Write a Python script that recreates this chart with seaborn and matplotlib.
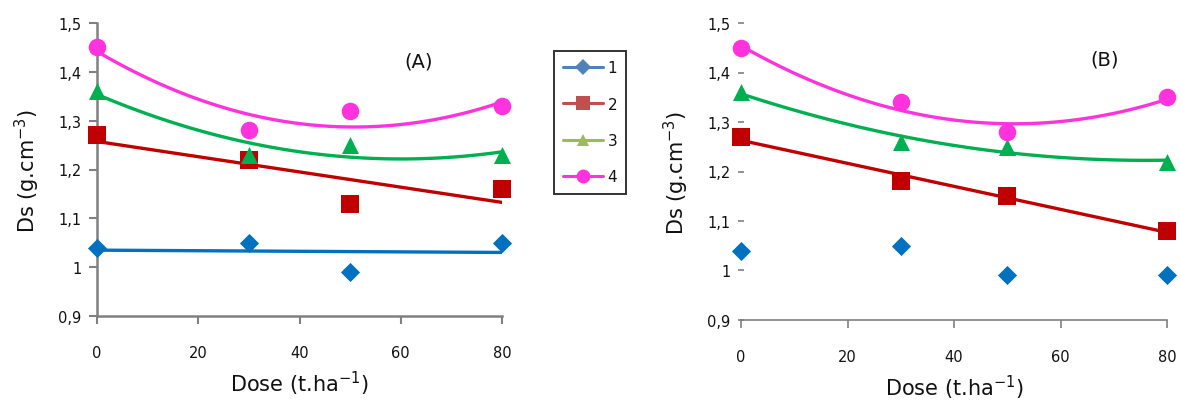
import numpy as np
import pandas as pd
import matplotlib
matplotlib.use("Agg")
import matplotlib.pyplot as plt
from matplotlib.lines import Line2D
import seaborn as sns

sns.set_theme(style="white")
plt.rcParams["font.family"] = ["DejaVu Sans"]

# Doses applied (t/ha)
doses = [0, 30, 50, 80]

# Soil bulk density (g/cm3) for the four treatments, panel A
ds_a_1 = [1.04, 1.05, 0.99, 1.05]
ds_a_2 = [1.27, 1.22, 1.13, 1.16]
ds_a_3 = [1.36, 1.23, 1.25, 1.23]
ds_a_4 = [1.45, 1.28, 1.32, 1.33]

# Soil bulk density (g/cm3), panel B
ds_b_1 = [1.04, 1.05, 0.99, 0.99]
ds_b_2 = [1.27, 1.18, 1.15, 1.08]
ds_b_3 = [1.36, 1.26, 1.25, 1.22]
ds_b_4 = [1.45, 1.34, 1.28, 1.35]

series_labels = ["1", "2", "3", "4"]
x_ticks = [0, 20, 40, 60, 80]
y_ticks = [0.9, 1.0, 1.1, 1.2, 1.3, 1.4, 1.5]
y_tick_labels = ["0,9", "1", "1,1", "1,2", "1,3", "1,4", "1,5"]

# Trend order per series (None = no trend line)
trend_a = [1, 1, 2, 2]
trend_b = [None, 1, 2, 2]

mark_colors = ["#0070C0", "#C00000", "#00B050", "#FF33DD"]
line_colors = ["#0070C0", "#C00000", "#00B050", "#FF33DD"]
legend_colors = ["#4F81BD", "#C0504D", "#9BBB59", "#FF33DD"]
markers = ["D", "s", "^", "o"]
msizes = [95, 150, 150, 160]

fig = plt.figure(figsize=(11.8, 4.02), dpi=100)
ax_a = fig.add_axes([97 / 1180, 1 - 317 / 402, 405 / 1180, 293 / 402])
ax_b = fig.add_axes([741 / 1180, 1 - 321 / 402, 426 / 1180, 297 / 402])

panels = [
    (ax_a, [ds_a_1, ds_a_2, ds_a_3, ds_a_4], trend_a, "(A)", (63.6, 1.422)),
    (ax_b, [ds_b_1, ds_b_2, ds_b_3, ds_b_4], trend_b, "(B)", (68.2, 1.427)),
]

for ax, values, trends, tag, tag_pos in panels:
    for i, vals in enumerate(values):
        df = pd.DataFrame({"dose": doses, "ds": vals})
        if trends[i] is not None:
            sns.regplot(data=df, x="dose", y="ds", order=trends[i], ci=None,
                        scatter=False, ax=ax,
                        line_kws=dict(color=line_colors[i], lw=2.4, zorder=2))
        sns.scatterplot(data=df, x="dose", y="ds", ax=ax, marker=markers[i],
                        color=mark_colors[i], s=msizes[i], linewidth=0,
                        zorder=3, clip_on=False)
    ax.set_xlim(0, 80)
    ax.set_ylim(0.9, 1.5)
    ax.set_xticks(x_ticks)
    ax.set_xticklabels([str(t) for t in x_ticks])
    ax.set_yticks(y_ticks)
    ax.set_yticklabels(y_tick_labels)
    ax.set_xlabel("Dose (t.ha$^{-1}$)", fontsize=15, color="#111111",
                  labelpad=6)
    ax.set_ylabel("Ds (g.cm$^{-3}$)", fontsize=15, color="#111111",
                  labelpad=12)
    ax.text(tag_pos[0], tag_pos[1], tag, fontsize=14, ha="center",
            va="center", color="#111111")
    for side in ["top", "right"]:
        ax.spines[side].set_visible(False)
    ax.spines["bottom"].set_color("#808080")
    ax.set_facecolor("none")
    ax.tick_params(axis="both", labelsize=10.5, colors="#808080")
    for lab in ax.get_xticklabels() + ax.get_yticklabels():
        lab.set_color("#111111")

# Panel A: full gray axes with outward ticks
ax_a.spines["left"].set_color("#808080")
ax_a.spines["left"].set_linewidth(1.8)
ax_a.spines["bottom"].set_linewidth(1.8)
ax_a.tick_params(axis="x", direction="out", length=6, width=1.5, pad=15,
                 bottom=True)
ax_a.tick_params(axis="y", direction="out", length=6, width=1.5, pad=5,
                 left=True)

# Panel B: no left spine, short dashes for the y ticks
ax_b.spines["left"].set_visible(False)
ax_b.spines["bottom"].set_linewidth(1.2)
ax_b.tick_params(axis="x", direction="out", length=6, width=1.2, pad=15,
                 bottom=True)
ax_b.tick_params(axis="y", direction="inout", length=5, width=1.2, pad=5,
                 left=True)

handles = [
    Line2D([0], [0], color=legend_colors[i], lw=2.2, marker=markers[i],
           markersize=[8, 10, 9, 10][i], markeredgewidth=0)
    for i in range(4)
]
leg = fig.legend(handles, series_labels, loc="upper left",
                 bbox_to_anchor=(554 / 1180, 1 - 52 / 402),
                 fontsize=11, handlelength=2.6, labelspacing=1.4,
                 handletextpad=0.3, borderpad=0.6, borderaxespad=0,
                 frameon=True, fancybox=False)
leg.get_frame().set_edgecolor("black")
leg.get_frame().set_linewidth(1.4)
for t in leg.get_texts():
    t.set_color("#111111")

fig.savefig("out.png", dpi=100, facecolor="white")
